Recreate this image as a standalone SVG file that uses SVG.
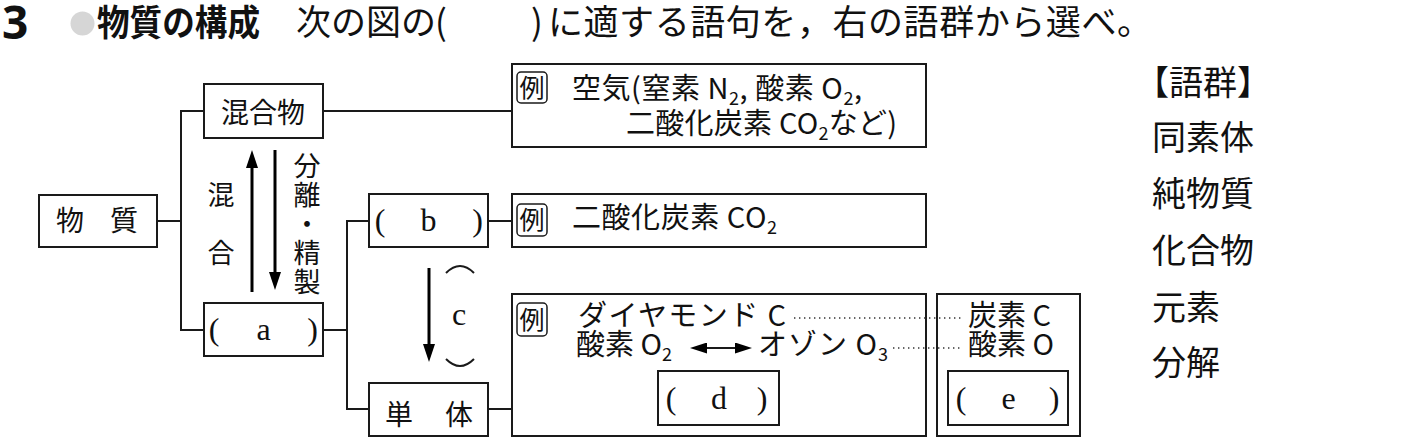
<svg xmlns="http://www.w3.org/2000/svg" width="1411" height="438" viewBox="0 0 1411 438">
<style>
.box{fill:#fff;stroke:#1a1a1a;stroke-width:2}
.ln{fill:none;stroke:#1a1a1a;stroke-width:2}
.ar{fill:none;stroke:#000;stroke-width:3}
.dot{fill:none;stroke:#333;stroke-width:1.6;stroke-dasharray:1.4 3.6}
.ex{fill:#fff;stroke:#1a1a1a;stroke-width:1.5}
.jp{font-family:"Noto Sans CJK JP","Noto Sans",sans-serif;fill:#111}
.t28{font-size:28px}
.t29{font-size:29px}
.sub{font-size:18px}
.ser{font-family:"Liberation Serif",serif;font-size:32px;fill:#111;text-anchor:middle}
.mid{text-anchor:middle}
.wl{font-family:"Noto Sans CJK JP",sans-serif;font-size:34px;fill:#111}
</style>
<defs>
<marker id="ah" viewBox="0 0 18 12" refX="0" refY="6" markerWidth="18" markerHeight="12" orient="auto-start-reverse" markerUnits="userSpaceOnUse"><path d="M0,0 L18,6 L0,12 z" fill="#000"/></marker>
<marker id="ah2" viewBox="0 0 17 11" refX="0" refY="5.5" markerWidth="17" markerHeight="11" orient="auto-start-reverse" markerUnits="userSpaceOnUse"><path d="M0,0 L17,5.5 L0,11 z" fill="#000"/></marker>
</defs>
<rect width="1411" height="438" fill="#fff"/>

<g id="header">
<text x="2" y="39" font-family="Noto Sans, sans-serif" font-weight="700" font-size="46" fill="#111">3</text>
<circle cx="82.5" cy="23.5" r="12" fill="#d6d6d6"/>
<text x="97" y="36" class="jp" font-weight="700" font-size="36" textLength="163" lengthAdjust="spacingAndGlyphs">物質の構成</text>
<text x="296" y="35" class="jp" font-size="35">次の図の</text>
<text x="441" y="35" class="jp mid" font-size="35">(</text>
<text x="537" y="35" class="jp mid" font-size="35">)</text>
<text x="548" y="35" class="jp" font-size="35" textLength="604">に適する語句を，右の語群から選べ。</text>
</g>

<g id="connectors">
<polyline class="ln" points="157,221 181,221"/>
<polyline class="ln" points="204,111 181,111 181,330 204,330"/>
<polyline class="ln" points="323,111 512,111"/>
<polyline class="ln" points="323,330 347,330"/>
<polyline class="ln" points="369,221 347,221 347,409 369,409"/>
<polyline class="ln" points="488,221 512,221"/>
<polyline class="ln" points="488,409 512,409"/>
<line class="ar" x1="252" y1="292" x2="252" y2="168" marker-end="url(#ah)"/>
<line class="ar" x1="275" y1="150" x2="275" y2="272" marker-end="url(#ah)"/>
<line class="ar" x1="429" y1="268" x2="429" y2="344" marker-end="url(#ah)"/>
<path class="ln" d="M446,273 Q460,259 474,273" stroke-width="1.6"/>
<path class="ln" d="M446,359 Q460,373 474,359" stroke-width="1.6"/>
</g>

<g id="labels">
<text x="221" y="205" class="jp mid" font-size="27">混</text>
<text x="221" y="263" class="jp mid" font-size="27">合</text>
<text x="307" y="176" class="jp mid" font-size="27">分</text>
<text x="307" y="205" class="jp mid" font-size="27">離</text>
<text x="307" y="234" class="jp mid" font-size="27">・</text>
<text x="307" y="263" class="jp mid" font-size="27">精</text>
<text x="307" y="292" class="jp mid" font-size="27">製</text>
<text x="459" y="325" class="ser" font-size="30">c</text>
</g>

<g id="node-busshitsu">
<rect class="box" x="39" y="195" width="118" height="52"/>
<text x="70" y="231" class="jp t28 mid">物</text>
<text x="124" y="231" class="jp t28 mid">質</text>
</g>

<g id="node-kongoubutsu">
<rect class="box" x="204" y="84" width="119" height="54"/>
<text x="221" y="123" class="jp t28">混合物</text>
</g>

<g id="node-a">
<rect class="box" x="204" y="303" width="119" height="53"/>
<text x="214" y="340" class="ser">(</text>
<text x="263.5" y="340" class="ser">a</text>
<text x="312.5" y="340" class="ser">)</text>
</g>

<g id="node-b">
<rect class="box" x="369" y="194" width="119" height="53"/>
<text x="380" y="231" class="ser">(</text>
<text x="428.5" y="231" class="ser">b</text>
<text x="477.5" y="231" class="ser">)</text>
</g>

<g id="node-tantai">
<rect class="box" x="369" y="383" width="119" height="53"/>
<text x="399" y="425" class="jp t28 mid">単</text>
<text x="459" y="425" class="jp t28 mid">体</text>
</g>

<g id="node-ex1">
<rect class="box" x="512" y="64" width="414" height="83"/>
<rect class="ex" x="517" y="72" width="30" height="31" rx="4"/>
<text x="532" y="97" class="jp mid" font-size="25">例</text>
<text x="572" y="99" class="jp t29" textLength="290">空気(窒素 N<tspan class="sub" dy="6">2</tspan><tspan dy="-6">, 酸素 O</tspan><tspan class="sub" dy="6">2</tspan><tspan dy="-6">,</tspan></text>
<text x="626" y="134" class="jp t29" textLength="271">二酸化炭素 CO<tspan class="sub" dy="6">2</tspan><tspan dy="-6">など)</tspan></text>
</g>

<g id="node-ex2">
<rect class="box" x="512" y="194" width="414" height="53"/>
<rect class="ex" x="517" y="204" width="30" height="32" rx="4"/>
<text x="532" y="229" class="jp mid" font-size="25">例</text>
<text x="572" y="228" class="jp t29" textLength="205">二酸化炭素 CO<tspan class="sub" dy="6">2</tspan></text>
</g>

<g id="node-ex3">
<rect class="box" x="512" y="294" width="414" height="142"/>
<rect class="ex" x="517" y="303" width="30" height="33" rx="4"/>
<text x="532" y="329" class="jp mid" font-size="25">例</text>
<text x="578" y="326" class="jp t29" textLength="208">ダイヤモンド C</text>
<text x="576" y="355" class="jp t29">酸素 O<tspan class="sub" dy="6">2</tspan></text>
<line class="ln" x1="707" y1="348" x2="735" y2="348" stroke-width="2.5" marker-start="url(#ah2)" marker-end="url(#ah2)"/>
<text x="758" y="355" class="jp t29" textLength="130">オゾン O<tspan class="sub" dy="6">3</tspan></text>
<rect class="box" x="658" y="371" width="121" height="54"/>
<text x="671" y="409" class="ser">(</text>
<text x="719" y="409" class="ser">d</text>
<text x="762" y="409" class="ser">)</text>
</g>

<g id="node-ex4">
<rect class="box" x="937" y="294" width="143" height="142"/>
<text x="968" y="326" class="jp t29">炭素 C</text>
<text x="968" y="355" class="jp t29">酸素 O</text>
<rect class="box" x="948" y="371" width="120" height="54"/>
<text x="961" y="409" class="ser">(</text>
<text x="1008.5" y="409" class="ser">e</text>
<text x="1054" y="409" class="ser">)</text>
</g>

<g id="dotted">
<line class="dot" x1="794" y1="318" x2="961" y2="318"/>
<line class="dot" x1="893" y1="348" x2="961" y2="348"/>
</g>

<g id="wordlist">
<text x="1135" y="95" class="wl">【語群】</text>
<text x="1152" y="150" class="wl">同素体</text>
<text x="1152" y="206" class="wl">純物質</text>
<text x="1152" y="263" class="wl">化合物</text>
<text x="1152" y="320" class="wl">元素</text>
<text x="1152" y="375" class="wl">分解</text>
</g>
</svg>
